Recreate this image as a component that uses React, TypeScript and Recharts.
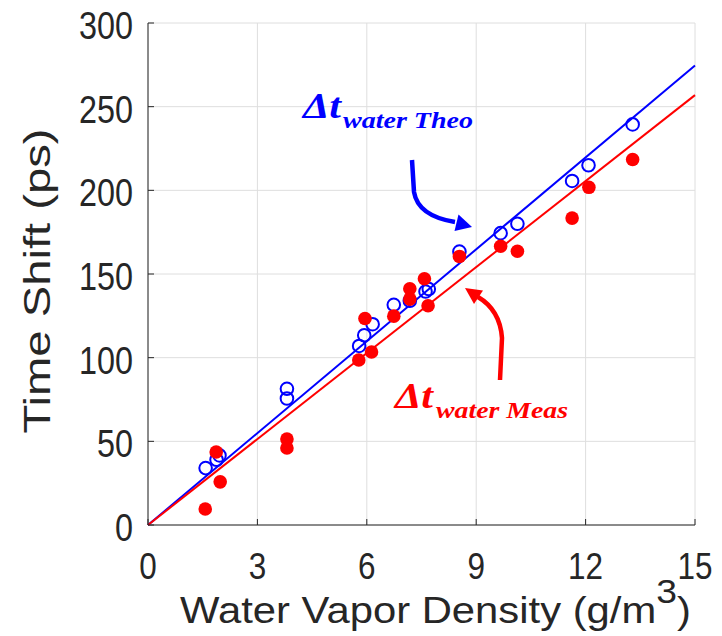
import React from 'react';
import { ScatterChart, Scatter, XAxis, YAxis, CartesianGrid } from 'recharts';

// theoretical (blue, open) and measured (red, filled) time shifts
const theoX = [1.58, 1.88, 1.96, 3.81, 3.81, 5.79, 5.93, 6.16, 6.74, 7.18, 7.61, 7.7, 8.54, 9.67, 10.13, 11.63, 12.08, 13.29];
const theoY = [34, 39, 41.6, 81.4, 75.6, 107, 113.4, 120, 131.6, 134, 139.5, 141, 163.4, 174.4, 180, 205.6, 215, 239.4];
const measX = [1.57, 1.87, 1.98, 3.81, 3.81, 5.78, 5.95, 6.13, 6.74, 7.18, 7.18, 7.58, 7.68, 8.54, 9.67, 10.13, 11.63, 12.09, 13.29];
const measY = [9.6, 43.6, 25.8, 51.4, 46, 98.6, 123.4, 103.4, 124.8, 141.2, 135, 147.2, 131, 160.5, 166.6, 163.6, 183.4, 201.8, 218.4];

// linear fits through the origin
const fitX = [0, 15];
const theoFitY = [0, 274.6];
const measFitY = [0, 256.9];

const xTicks = [0, 3, 6, 9, 12, 15];
const yTicks = [0, 50, 100, 150, 200, 250, 300];

const BLUE = '#0000ff';
const RED = '#ff0000';
const AXIS = '#262626';
const SANS = '"Liberation Sans", Arial, sans-serif';
const SERIF = '"Liberation Serif", "Times New Roman", serif';
const TICK_LEN = 6;

const toPts = (xs: number[], ys: number[]) => xs.map((x, i) => ({ x, y: ys[i] }));
const theoData = toPts(theoX, theoY);
const measData = toPts(measX, measY);
const theoFit = toPts(fitX, theoFitY);
const measFit = toPts(fitX, measFitY);

const BottomTick = (p: any) => {
  const label = String(p.payload.value);
  return (
    <g>
      <line x1={p.x} x2={p.x} y1={p.y} y2={p.y - TICK_LEN} stroke={AXIS} />
      <text
        x={p.x}
        y={p.y + 54}
        textAnchor="middle"
        fontFamily={SANS}
        fontSize={37}
        fill={AXIS}
        textLength={label.length * 17.5}
        lengthAdjust="spacingAndGlyphs"
      >
        {label}
      </text>
    </g>
  );
};

const LeftTick = (p: any) => {
  const label = String(p.payload.value);
  const axisX = p.x + 15;
  return (
    <g>
      <line x1={axisX} x2={axisX + TICK_LEN} y1={p.y} y2={p.y} stroke={AXIS} />
      <text
        x={p.x}
        y={p.y + 16}
        textAnchor="end"
        fontFamily={SANS}
        fontSize={38}
        fill={AXIS}
        textLength={label.length * 18}
        lengthAdjust="spacingAndGlyphs"
      >
        {label}
      </text>
    </g>
  );
};

const TopTick = (p: any) => (
  <line x1={p.x} x2={p.x} y1={p.y} y2={p.y + TICK_LEN} stroke={AXIS} />
);

const RightTick = (p: any) => (
  <line x1={p.x} x2={p.x - TICK_LEN} y1={p.y} y2={p.y} stroke={AXIS} />
);

const OpenCircle = (p: any) => (
  <circle cx={p.cx} cy={p.cy} r={6.3} fill="none" stroke={BLUE} strokeWidth={2} />
);

const Dot = (p: any) => <circle cx={p.cx} cy={p.cy} r={6.8} fill={RED} />;

const NoShape = () => <g />;

const XLabel = ({ viewBox }: any) => {
  const cx = viewBox.x + viewBox.width / 2 + 14;
  return (
    <g transform={`translate(${cx}, ${viewBox.y + 98}) scale(1.13, 1)`}>
      <text x={0} y={0} textAnchor="middle" fontFamily={SANS} fontSize={37} fill={AXIS}>
        Water Vapor Density (g/m
        <tspan fontSize={33} dy={-20}>3</tspan>
        <tspan dy={20}>)</tspan>
      </text>
    </g>
  );
};

const YLabel = ({ viewBox }: any) => {
  const cy = viewBox.y + viewBox.height / 2 + 7;
  return (
    <text
      transform={`translate(50, ${cy}) rotate(-90)`}
      x={0}
      y={0}
      textAnchor="middle"
      fontFamily={SANS}
      fontSize={37}
      fill={AXIS}
      textLength={305}
      lengthAdjust="spacingAndGlyphs"
    >
      Time Shift (ps)
    </text>
  );
};

function Annotations() {
  return (
    <svg
      width={722}
      height={636}
      style={{ position: 'absolute', left: 0, top: 0, pointerEvents: 'none' }}
    >
      <g fontFamily={SERIF} fontWeight="bold" fontStyle="italic" fill={BLUE}>
        <text x={303} y={118} fontSize={35} textLength={38} lengthAdjust="spacingAndGlyphs">Δt</text>
        <text x={343} y={128} fontSize={23} textLength={130} lengthAdjust="spacingAndGlyphs">water Theo</text>
      </g>
      <path
        d="M412,160 L414,192 Q418,216 455,222"
        fill="none"
        stroke={BLUE}
        strokeWidth={4.5}
      />
      <polygon points="472,227 458.5,214.5 454.5,231" fill={BLUE} />

      <g fontFamily={SERIF} fontWeight="bold" fontStyle="italic" fill={RED}>
        <text x={395} y={408} fontSize={35} textLength={38} lengthAdjust="spacingAndGlyphs">Δt</text>
        <text x={436} y={418} fontSize={23} textLength={132} lengthAdjust="spacingAndGlyphs">water Meas</text>
      </g>
      <path
        d="M500,380 L502,338 Q500,310 478,297"
        fill="none"
        stroke={RED}
        strokeWidth={4.5}
      />
      <polygon points="465,288 483,290.5 474,304" fill={RED} />
    </svg>
  );
}

export default function App() {
  return (
    <div style={{ position: 'absolute', left: 0, top: 0, width: 722, height: 636, background: '#fff' }}>
      <ScatterChart width={722} height={636} margin={{ top: 23, right: 27, left: 0, bottom: 0 }}>
        <CartesianGrid stroke="#dedede" strokeWidth={1} />
        <XAxis
          type="number"
          dataKey="x"
          domain={[0, 15]}
          ticks={xTicks}
          height={111}
          axisLine={{ stroke: AXIS }}
          tickLine={false}
          tickSize={0}
          tickMargin={0}
          tick={<BottomTick />}
          label={{ content: <XLabel /> }}
        />
        <YAxis
          type="number"
          dataKey="y"
          domain={[0, 300]}
          ticks={yTicks}
          width={148}
          axisLine={{ stroke: AXIS }}
          tickLine={false}
          tickSize={0}
          tickMargin={15}
          tick={<LeftTick />}
          label={{ content: <YLabel /> }}
        />
        <XAxis
          xAxisId="top"
          orientation="top"
          type="number"
          dataKey="x"
          domain={[0, 15]}
          ticks={xTicks}
          height={0}
          axisLine={{ stroke: AXIS }}
          tickLine={false}
          tickSize={0}
          tickMargin={0}
          tick={<TopTick />}
        />
        <YAxis
          yAxisId="right"
          orientation="right"
          type="number"
          dataKey="y"
          domain={[0, 300]}
          ticks={yTicks}
          width={0}
          axisLine={{ stroke: AXIS }}
          tickLine={false}
          tickSize={0}
          tickMargin={0}
          tick={<RightTick />}
        />
        <Scatter data={theoFit} line={{ stroke: BLUE, strokeWidth: 2 }} shape={<NoShape />} isAnimationActive={false} />
        <Scatter data={measFit} line={{ stroke: RED, strokeWidth: 2 }} shape={<NoShape />} isAnimationActive={false} />
        <Scatter data={theoData} shape={<OpenCircle />} isAnimationActive={false} />
        <Scatter data={measData} shape={<Dot />} isAnimationActive={false} />
      </ScatterChart>
      <Annotations />
    </div>
  );
}
